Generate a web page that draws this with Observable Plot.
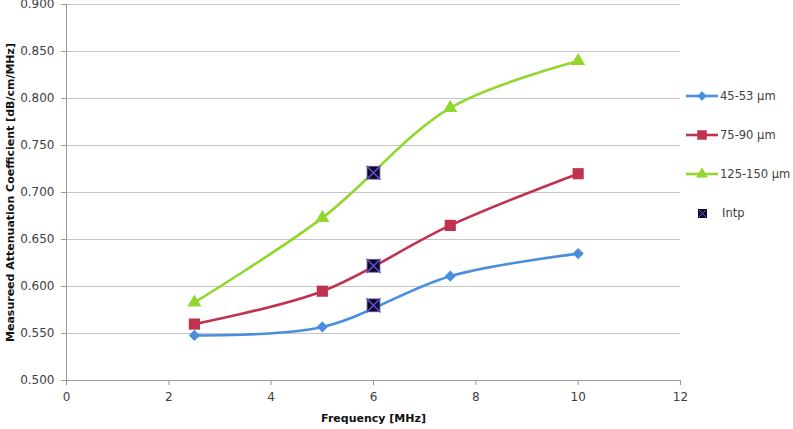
<!DOCTYPE html>
<html>
<head>
<meta charset="utf-8">
<script src="https://cdn.jsdelivr.net/npm/d3@7"></script>
<script src="https://cdn.jsdelivr.net/npm/@observablehq/plot@0.6"></script>
<style>
  html, body { margin: 0; padding: 0; background: #fff; }
  #wrap { position: relative; width: 793px; height: 429px; font-family: "DejaVu Sans", sans-serif; }
  #legend { position: absolute; left: 686px; top: 0; font-size: 11.5px; color: #404040; }
  .row { position: absolute; left: 0; display: flex; align-items: center; white-space: nowrap; }
  .row svg { display: block; margin-right: 2px; }
</style>
</head>
<body>
<div id="wrap"><div id="legend"></div></div>
<script>
const frequencies = [2.5, 5, 7.5, 10];
const series = ["45-53 μm", "75-90 μm", "125-150 μm"];
const values45 = [0.548, 0.557, 0.611, 0.635];
const values75 = [0.560, 0.595, 0.665, 0.720];
const values125 = [0.583, 0.673, 0.790, 0.840];
const intpFreq = [6, 6, 6];
const intpValues = [0.580, 0.622, 0.721];
const colors = ["#4a8ee0", "#c0334f", "#92d62e"];
const symbols = ["diamond2", "square", "triangle"];
const xTicks = [0, 2, 4, 6, 8, 10, 12];
const yTicks = [0.5, 0.55, 0.6, 0.65, 0.7, 0.75, 0.8, 0.85, 0.9];
const yLabel = "Measureed Attenuation Coefficient [dB/cm/MHz]";
const xLabel = "Frequency [MHz]";

const allValues = [values45, values75, values125];
const rows = [];
allValues.forEach((vals, i) => vals.forEach((v, j) => rows.push({series: series[i], x: frequencies[j], y: v})));
const intp = intpFreq.map((f, i) => ({x: f, y: intpValues[i]}));

const sizes = {"diamond2": 5.0, "square": 6.3, "triangle": 5.2};

const marks = [
  Plot.gridY(yTicks, {stroke: "#c6c6c6", strokeOpacity: 1, strokeWidth: 1}),
  Plot.ruleX([0], {stroke: "#9a9a9a"}),
  Plot.ruleY([0.5], {stroke: "#9a9a9a"}),
  Plot.axisY(yTicks, {tickFormat: d3.format(".3f"), tickSize: 5, tickPadding: 7, stroke: "#9a9a9a", fill: "#404040", label: null, fontSize: 12}),
  Plot.axisX(xTicks, {tickSize: 5, tickPadding: 7, stroke: "#9a9a9a", fill: "#404040", label: null, fontSize: 12}),
  Plot.text([yLabel], {frameAnchor: "left", textAnchor: "middle", rotate: -90, dx: -56, fontWeight: "bold", fontSize: 11, fill: "#111"}),
  Plot.text([xLabel], {frameAnchor: "bottom", textAnchor: "middle", dy: 41, fontWeight: "bold", fontSize: 11, fill: "#111"})
];
series.forEach((s, i) => {
  const d = rows.filter(r => r.series === s);
  marks.push(Plot.line(d, {x: "x", y: "y", stroke: colors[i], strokeWidth: 2.6, curve: "catmull-rom"}));
  marks.push(Plot.dot(d, {x: "x", y: "y", symbol: symbols[i], r: sizes[symbols[i]], fill: colors[i], stroke: "none"}));
});
marks.push(Plot.dot(intp, {x: "x", y: "y", symbol: "square", r: 7.2, fill: "#0e0c26", stroke: "#5a4aa0", strokeWidth: 0.8}));
marks.push(Plot.dot(intp, {x: "x", y: "y", symbol: "times", r: 6.5, stroke: "#6a50d8", strokeWidth: 1.4}));

const chart = Plot.plot({
  width: 793, height: 429,
  marginLeft: 66, marginRight: 113, marginTop: 4, marginBottom: 49,
  x: {domain: [0, 12]},
  y: {domain: [0.5, 0.9]},
  style: {fontFamily: "DejaVu Sans, sans-serif", fontSize: "12px", background: "white", overflow: "visible"},
  marks
});
document.getElementById("wrap").prepend(chart);

// legend
const legend = document.getElementById("legend");
const legendY = [96, 135, 174, 213];
const ns = "http://www.w3.org/2000/svg";
series.forEach((s, i) => {
  const row = document.createElement("div");
  row.className = "row";
  row.style.top = (legendY[i] - 8) + "px";
  const svg = document.createElementNS(ns, "svg");
  svg.setAttribute("width", 32); svg.setAttribute("height", 16);
  const line = document.createElementNS(ns, "line");
  line.setAttribute("x1", 0); line.setAttribute("x2", 32); line.setAttribute("y1", 8); line.setAttribute("y2", 8);
  line.setAttribute("stroke", colors[i]); line.setAttribute("stroke-width", 2.6);
  svg.appendChild(line);
  const p = document.createElementNS(ns, "path");
  const sym = {diamond2: d3.symbolDiamond2, square: d3.symbolSquare, triangle: d3.symbolTriangle}[symbols[i]];
  const r = sizes[symbols[i]] * 0.85;
  p.setAttribute("d", d3.symbol(sym, Math.PI * r * r)());
  p.setAttribute("transform", "translate(16,8)");
  p.setAttribute("fill", colors[i]);
  svg.appendChild(p);
  row.appendChild(svg);
  const t = document.createElement("span");
  t.textContent = s;
  row.appendChild(t);
  legend.appendChild(row);
});
{
  const row = document.createElement("div");
  row.className = "row";
  row.style.top = (legendY[3] - 8) + "px";
  const svg = document.createElementNS(ns, "svg");
  svg.setAttribute("width", 32); svg.setAttribute("height", 16);
  const rect = document.createElementNS(ns, "rect");
  rect.setAttribute("x", 12); rect.setAttribute("y", 4); rect.setAttribute("width", 9); rect.setAttribute("height", 9);
  rect.setAttribute("fill", "#0e0c26");
  svg.appendChild(rect);
  const x = document.createElementNS(ns, "path");
  x.setAttribute("d", "M13,5L20,12M20,5L13,12");
  x.setAttribute("stroke", "#6a50d8"); x.setAttribute("stroke-width", 1);
  svg.appendChild(x);
  row.appendChild(svg);
  const t = document.createElement("span");
  t.textContent = "Intp";
  t.style.marginLeft = "2px";
  row.appendChild(t);
  legend.appendChild(row);
}
</script>
</body>
</html>
